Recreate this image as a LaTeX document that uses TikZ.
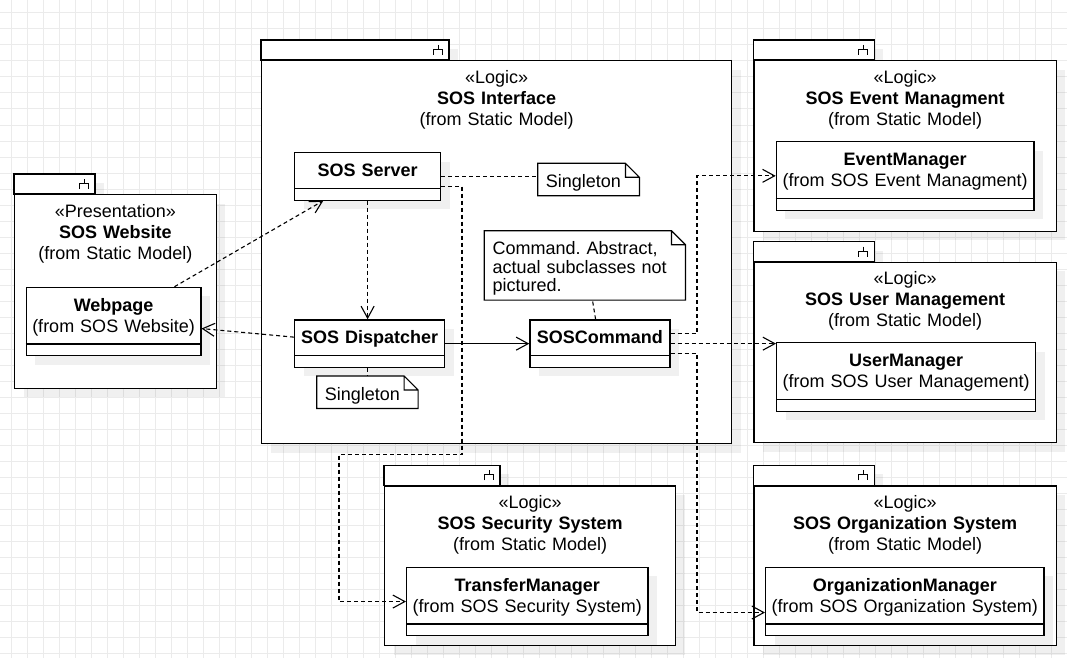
\documentclass[tikz,border=0pt]{standalone}
\usepackage{fontspec}
\setmainfont{Liberation Sans}
\usetikzlibrary{arrows.meta, shadows}
\frenchspacing

\begin{document}
\begin{tikzpicture}[
    x=1pt, y=-1pt,
    font=\fontsize{18}{21}\selectfont,
    gridline/.style={draw=black!8, line width=1pt},
    boxshadow/.style={drop shadow={shadow xshift=9pt, shadow yshift=-9pt, fill=black, opacity=0.06}},
    tab/.style={draw, fill=white, line width=1.2pt, boxshadow},
    pkg/.style={
      rectangle, draw, fill=white, line width=1.2pt, boxshadow,
      anchor=north west, inner sep=0pt, align=center,
      text height=22.5pt
    },
    cls/.style={
      rectangle, draw, fill=white, line width=1.2pt, boxshadow,
      anchor=north west, inner sep=0pt, align=center,
      text height=24pt, text depth=23.5pt
    },
    twoline/.style={text depth=44.5pt},
    note/.style={
      rectangle, anchor=north west, inner xsep=8pt, inner ysep=0pt,
      align=left, font=\fontsize{18}{18.2}\selectfont,
      text height=24pt, text depth=8pt
    },
    noteline/.style={draw, line width=1.2pt},
    dashedarrow/.style={-{Straight Barb[length=12pt, width=13pt]}, line width=1.1pt, dash pattern=on 4pt off 3pt},
    solidarrow/.style={-{Straight Barb[length=12pt, width=13pt]}, line width=1.1pt},
    anchorline/.style={line width=1.1pt, dash pattern=on 4pt off 3pt}
  ]
    \useasboundingbox (0,0) rectangle (1067,658);
    \fill[white] (0,0) rectangle (1067,658);

    % background grid
    \foreach \gx in {11,27,...,1067} \draw[gridline] (\gx,0) -- (\gx,658);
    \foreach \gy in {13,29,...,658} \draw[gridline] (0,\gy) -- (1067,\gy);

    % package tabs
    \foreach \x/\y/\w in {14/194/81, 261/60/188, 753.3/60/121, 753.3/261.5/121, 384/485.3/116, 753.3/485.3/121} {
      \draw[tab] (\x,\y-20) rectangle (\x+\w,\y);
      \draw[line width=0.9pt] (\x+\w-11,\y-15) -- (\x+\w-11,\y-10.5)
        (\x+\w-15.5,\y-5) |- (\x+\w-6.5,\y-10.5) -- (\x+\w-6.5,\y-5);
    }

    % packages
    \node[pkg, text width=201.5pt, text depth=171.2pt] (website) at (14,194) {«Presentation»\\\textbf{SOS Website}\\(from Static Model)};
    \node[pkg, text width=470pt, text depth=360.5pt] (iface) at (261,60) {«Logic»\\\textbf{SOS Interface}\\(from Static Model)};
    \node[pkg, text width=302.4pt, text depth=148pt] (eventpkg) at (753.3,60) {«Logic»\\\textbf{SOS Event Managment}\\(from Static Model)};
    \node[pkg, text width=302.4pt, text depth=158pt] (userpkg) at (753.3,261.5) {«Logic»\\\textbf{SOS User Management}\\(from Static Model)};
    \node[pkg, text width=291pt, text depth=137.2pt] (securitypkg) at (384,485.3) {«Logic»\\\textbf{SOS Security System}\\(from Static Model)};
    \node[pkg, text width=302.4pt, text depth=137.2pt] (orgpkg) at (753.3,485.3) {«Logic»\\\textbf{SOS Organization System}\\(from Static Model)};

    % classes
    \node[cls, twoline, text width=174.6pt] (webpage) at (25.7,286.7) {\textbf{Webpage}\\(from SOS Website)};
    \node[cls, text width=146pt] (server) at (294,152) {\textbf{SOS Server}};
    \node[cls, text width=150pt] (dispatcher) at (294,319.3) {\textbf{SOS Dispatcher}};
    \node[cls, text width=140pt] (command) at (529.3,319.3) {\textbf{SOSCommand}};
    \node[cls, twoline, text width=257.6pt] (eventmgr) at (775.7,141) {\textbf{EventManager}\\(from SOS Event Managment)};
    \node[cls, twoline, text width=259pt] (usermgr) at (776,342) {\textbf{UserManager}\\(from SOS User Management)};
    \node[cls, twoline, text width=241.3pt] (transfer) at (406,566.7) {\textbf{TransferManager}\\(from SOS Security System)};
    \node[cls, twoline, text width=278.3pt] (orgmgr) at (765,566.7) {\textbf{OrganizationManager}\\(from SOS Organization System)};

    \foreach \c in {webpage,server,dispatcher,command,eventmgr,usermgr,transfer,orgmgr}
      \draw[line width=1.2pt] ([yshift=12.5pt]\c.south west) -- ([yshift=12.5pt]\c.south east);

    % notes
    \node[note, text width=85.3pt] (single1) at (537.7,163.3) {Singleton};
    \node[note, text width=85pt] (single2) at (316.7,376) {Singleton};
    \node[note, text width=184.7pt, text depth=45pt] (cmdnote) at (484.3,230.7) {Command. Abstract,\\actual subclasses not\\pictured.};

    \foreach \n in {single1,single2,cmdnote}
      \draw[noteline] (\n.north west) -- ([xshift=-14pt]\n.north east) -- ([yshift=-14pt]\n.north east)
        -- (\n.south east) -- (\n.south west) -- cycle
        ([xshift=-14pt]\n.north east) |- ([yshift=-14pt]\n.north east);

    % connectors
    \coordinate (busL) at (339,454.3);
    \coordinate (busM) at (462,454.3);
    \coordinate (busR) at (697,0);
    \coordinate (orgin) at ([yshift=-11pt]orgmgr.west);

    \draw[dashedarrow] ([xshift=-27pt]webpage.north east) -- ([xshift=29.3pt]server.south west);
    \draw[dashedarrow] (server.south) -- (server.south |- dispatcher.north);
    \draw[anchorline] (server.east) -- (server.east -| single1.west);
    \draw[dashedarrow] ([yshift=-10pt]server.east) -| (busM) -- (busL) |- (transfer.west);
    \draw[dashedarrow] ([yshift=6.5pt]dispatcher.west) -- ([yshift=-7pt]webpage.east);
    \draw[solidarrow] (dispatcher.east) -- (command.west);
    \draw[anchorline] (server.south |- dispatcher.south) -- (server.south |- single2.north);
    \draw[anchorline] ([xshift=-4.3pt]command.north) -- ([xshift=7.6pt]cmdnote.south);
    \draw[dashedarrow] ([yshift=10.5pt]command.east) -| (busR |- eventmgr.west) -- (eventmgr.west);
    \draw[dashedarrow] (command.east) -- (command.east -| usermgr.west);
    \draw[dashedarrow] ([yshift=-10pt]command.east) -| (busR |- orgin) -- (orgin);
  \end{tikzpicture}
\end{document}
